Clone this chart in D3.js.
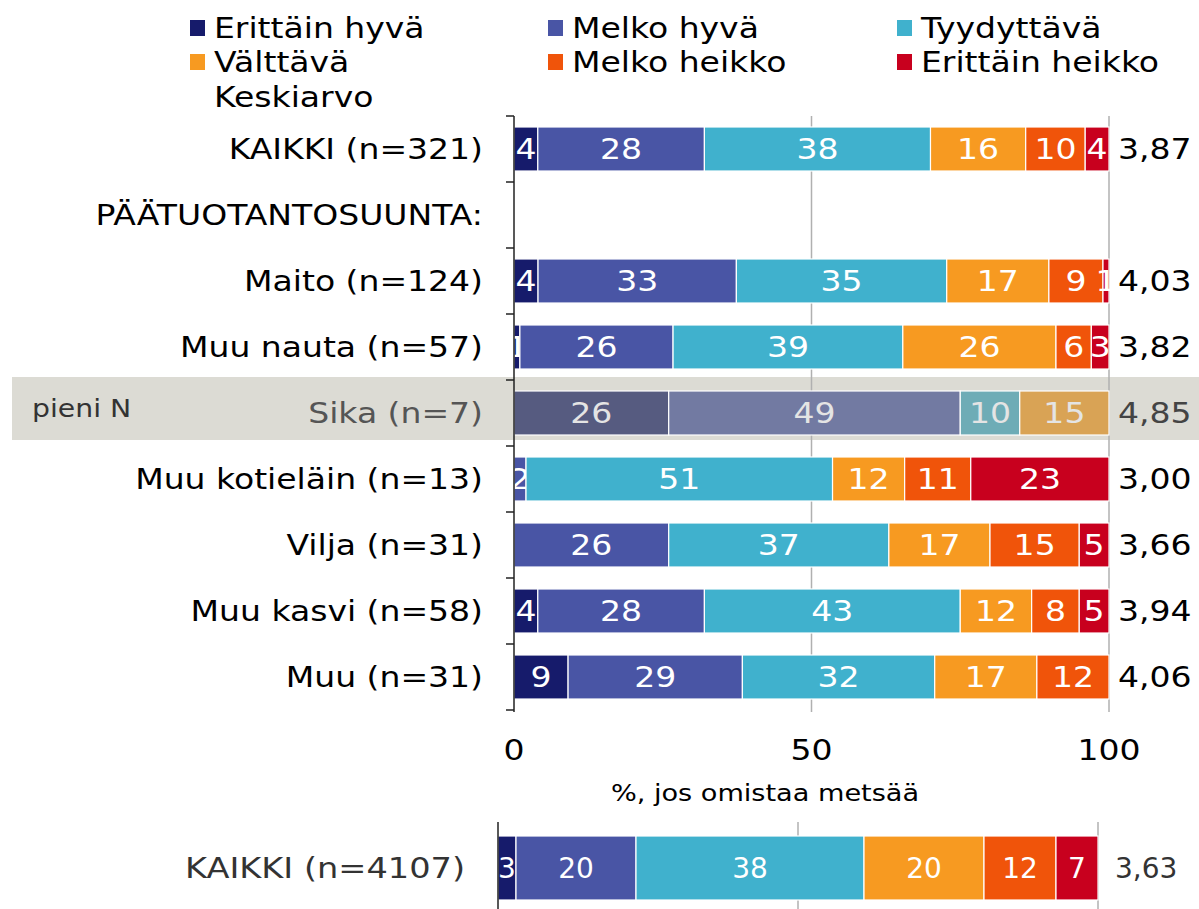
<!DOCTYPE html>
<html><head><meta charset="utf-8">
<script src="https://cdn.jsdelivr.net/npm/d3@7"></script>
<style>body{margin:0;background:#fff}svg{display:block;font-family:"DejaVu Sans",Verdana,sans-serif}</style>
</head><body><svg id="c" width="1199" height="909"></svg>
<script>
const categories = ["KAIKKI (n=321)","PÄÄTUOTANTOSUUNTA:","Maito (n=124)","Muu nauta (n=57)","Sika (n=7)","Muu kotieläin (n=13)","Vilja (n=31)","Muu kasvi (n=58)","Muu (n=31)"];
const seriesNames = ["Erittäin hyvä","Melko hyvä","Tyydyttävä","Välttävä","Melko heikko","Erittäin heikko"];
const erittainHyva   = [4, null, 4, 1, 26, 0, 0, 4, 9];
const melkoHyva      = [28, null, 33, 26, 49, 2, 26, 28, 29];
const tyydyttava     = [38, null, 35, 39, 10, 51, 37, 43, 32];
const valttava       = [16, null, 17, 26, 15, 12, 17, 12, 17];
const melkoHeikko    = [10, null, 9, 6, 0, 11, 15, 8, 12];
const erittainHeikko = [4, null, 1, 3, 0, 23, 5, 5, 0];
const averages = ["3,87","","4,03","3,82","4,85","3,00","3,66","3,94","4,06"];
const highlightCategory = "Sika (n=7)";
const highlightNote = "pieni N";
const totalCategory = "KAIKKI (n=4107)";
const totalValues = [3, 20, 38, 20, 12, 7];
const totalAverage = "3,63";
const xTicks = [0, 50, 100];
const xTitle = "%, jos omistaa metsää";
const legendExtra = "Keskiarvo";

const colors = ["#161b6b","#4955a5","#40b1cd","#f79a21","#f0540a","#c8001e"];
const mutedColors = ["#565b80","#727aa2","#6eacb6","#d9a355","#d07a50","#a85060"];

const svg = d3.select("#c");
const FS = 28, SX = 1.18;
const series = [erittainHyva, melkoHyva, tyydyttava, valttava, melkoHeikko, erittainHeikko];

// text helper: horizontally widened glyphs, positioned by transform
function T(parent, tx, ty, str, opts={}) {
  return parent.append("text")
    .attr("transform",`translate(${tx},${ty}) scale(${opts.sx||SX},1)`)
    .attr("dy","0.36em")
    .attr("text-anchor",opts.anchor||"start")
    .attr("font-size",opts.size||FS)
    .attr("fill",opts.fill||"#000")
    .text(str);
}

const x = d3.scaleLinear().domain([0,100]).range([514,1109]);
const y = d3.scaleBand().domain(categories).range([116,710]).paddingInner(0.333).paddingOuter(0.1665);

// highlight background
{
  const b = y(highlightCategory) - y.step()*0.1665;
  svg.append("rect").attr("x",12).attr("y",b-3).attr("width",1187).attr("height",63).attr("fill","#dcdbd4");
  T(svg, 32, b+y.step()/2-5, highlightNote, {size:24, fill:"#333"});
}

// gridlines
svg.append("g").selectAll("line").data(xTicks.filter(d=>d>0)).join("line")
  .attr("x1",d=>x(d)).attr("x2",d=>x(d)).attr("y1",116).attr("y2",712)
  .attr("stroke","#b0b0b0").attr("stroke-width",1.5);

// bars
categories.forEach((c,i)=>{
  const vals = series.map(s=>s[i]);
  if (vals[0]===null) return;
  const tot = d3.sum(vals);
  const muted = c===highlightCategory;
  let cum = 0;
  const g = svg.append("g");
  vals.forEach((v,j)=>{
    const x0 = x(cum/tot*100), x1 = x((cum+v)/tot*100);
    cum += v;
    if (!v) return;
    g.append("rect").attr("x",x0).attr("y",y(c)).attr("width",x1-x0).attr("height",y.bandwidth())
      .attr("fill",muted?mutedColors[j]:colors[j]).attr("stroke","#fff").attr("stroke-width",1.2);
    T(g, (x0+x1)/2, y(c)+y.bandwidth()/2, v, {anchor:"middle", fill: muted?"#e4e4e4":"#fff"});
  });
});

// y axis
svg.append("line").attr("x1",x(0)).attr("x2",x(0)).attr("y1",116).attr("y2",712).attr("stroke","#222").attr("stroke-width",1.5);
svg.append("g").selectAll("line").data(d3.range(categories.length+1)).join("line")
  .attr("x1",x(0)-8).attr("x2",x(0)).attr("y1",d=>116+d*y.step()).attr("y2",d=>116+d*y.step())
  .attr("stroke","#222").attr("stroke-width",1.5);

// category labels & averages
categories.forEach((c,i)=>{
  const hl = c===highlightCategory;
  T(svg, 483, y(c)+y.bandwidth()/2, c, {anchor:"end", fill: hl?"#555":"#000"});
  T(svg, 1118, y(c)+y.bandwidth()/2, averages[i], {fill: hl?"#444":"#000"});
});

// x tick labels
xTicks.forEach(d=>T(svg, x(d), 750, d, {anchor:"middle"}));
T(svg, 765, 793, xTitle, {anchor:"middle", size:23});

// legend
const legPos = [[190,28],[548,28],[897,28],[190,62],[548,62],[897,62]];
seriesNames.forEach((n,j)=>{
  const [lx,ly] = legPos[j];
  svg.append("rect").attr("x",lx).attr("y",ly-8).attr("width",15).attr("height",16).attr("fill",colors[j]);
  T(svg, lx+24, ly, n);
});
T(svg, 214, 97, legendExtra);

// bottom panel
const x2 = d3.scaleLinear().domain([0,100]).range([498,1098]);
const by = 836, bh = 64;
svg.append("g").selectAll("line").data(xTicks.filter(d=>d>0)).join("line")
  .attr("x1",d=>x2(d)).attr("x2",d=>x2(d)).attr("y1",822).attr("y2",909)
  .attr("stroke","#b0b0b0").attr("stroke-width",1.5);
{
  const tot = d3.sum(totalValues);
  let cum = 0;
  totalValues.forEach((v,j)=>{
    const x0 = x2(cum/tot*100), x1 = x2((cum+v)/tot*100);
    cum += v;
    svg.append("rect").attr("x",x0).attr("y",by).attr("width",x1-x0).attr("height",bh)
      .attr("fill",colors[j]).attr("stroke","#fff").attr("stroke-width",1.2);
    T(svg, (x0+x1)/2, by+bh/2, v, {anchor:"middle", fill:"#fff", sx:1});
  });
}
svg.append("line").attr("x1",x2(0)).attr("x2",x2(0)).attr("y1",822).attr("y2",909).attr("stroke","#222").attr("stroke-width",1.5);
T(svg, 465, by+bh/2, totalCategory, {anchor:"end", fill:"#333", sx:1.2});
T(svg, 1115, by+bh/2, totalAverage, {fill:"#333", sx:1});
</script></body></html>
